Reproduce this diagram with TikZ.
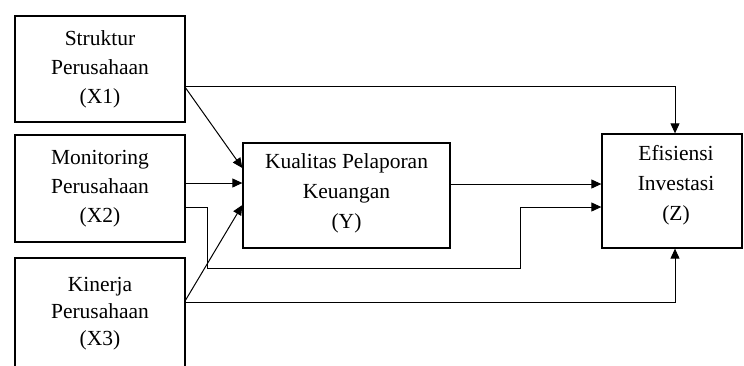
\documentclass[tikz,border=0pt]{standalone}
\usepackage{fontspec}
\setmainfont{Liberation Serif}
\usetikzlibrary{arrows.meta}
\begin{document}
\begin{tikzpicture}[x=1pt,y=-1pt,
  varbox/.style={draw,line width=1.3pt,rectangle,inner sep=0pt,align=center,
    font=\fontsize{21.5}{29}\selectfont},
  lbl/.style={align=center,inner sep=0pt},
  conn/.style={line width=1pt},
  arr/.style={conn,-{Triangle[length=10pt,width=9pt]}}]
\useasboundingbox (0,0) rectangle (744,365);
\node[varbox,minimum width=170,minimum height=106] (x1) at (100,69) {Struktur\\Perusahaan\\(X1)};
\node[varbox,minimum width=170,minimum height=107] (x2) at (100,188.5) {Monitoring\\Perusahaan\\(X2)};
\node[varbox,minimum width=170,minimum height=112] (x3) at (100,314) {};
\node[lbl,font=\fontsize{21.5}{27}\selectfont] (x3t) at (100,314) {Kinerja\\Perusahaan\\(X3)};
\node[varbox,minimum width=207,minimum height=105] (y) at (346.5,195.5) {};
\node[lbl,font=\fontsize{21.5}{30}\selectfont] (yt) at (346.5,193) {Kualitas Pelaporan\\Keuangan\\(Y)};
\node[varbox,minimum width=140,minimum height=114] (z) at (672,191) {};
\node[lbl,font=\fontsize{21.5}{30}\selectfont] (zt) at (676,185) {Efisiensi\\Investasi\\(Z)};
% X1 -> Z (top)
\draw[arr] (x1.east |- 0,86) -| (z.north -| 675,0);
% X1 -> Y
\draw[arr] (x1.east |- 0,88) -- (y.west |- 0,168);
% X2 -> Y
\draw[arr] (x2.east |- 0,183) -- (y.west |- 0,183);
% X2 -> Z (lower route)
\coordinate (c1) at (207,268);
\draw[arr] (x2.east |- 0,207) -| (c1) -| (520,207) -- (z.west |- 0,207);
% X3 -> Y
\draw[arr] (x3.east |- 0,300) -- (y.west |- 0,205);
% X3 -> Z (bottom)
\draw[arr] (x3.east |- 0,302) -| (z.south -| 675,0);
% Y -> Z
\draw[arr] (y.east |- 0,184) -- (z.west |- 0,184);
\end{tikzpicture}
\end{document}
